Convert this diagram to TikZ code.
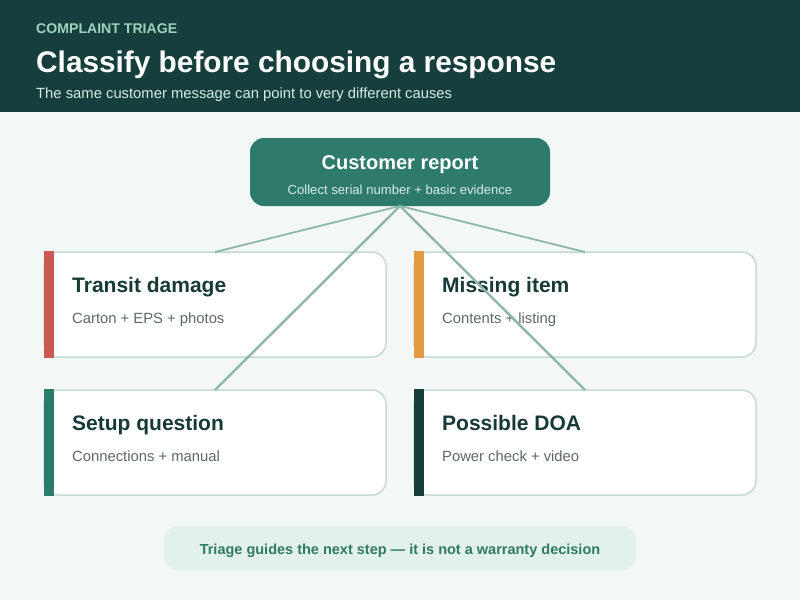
\documentclass[tikz,border=0pt]{standalone}
\usepackage{fontspec}
\setmainfont{Liberation Sans}
\definecolor{bgc}{HTML}{F3F8F6}
\definecolor{headc}{HTML}{163E3C}
\definecolor{kickc}{HTML}{9ED3C0}
\definecolor{headsub}{HTML}{D6EBE4}
\definecolor{repfill}{HTML}{2E7A6B}
\definecolor{repsub}{HTML}{D8EEE6}
\definecolor{cardline}{HTML}{C3DBD2}
\definecolor{cardtitlec}{HTML}{173A36}
\definecolor{cardsubc}{HTML}{5D6966}
\definecolor{connc}{HTML}{8FB6A8}
\definecolor{notefill}{HTML}{E3F1EC}
\definecolor{notetext}{HTML}{2F7A63}
\definecolor{acc1}{HTML}{C85A54}
\definecolor{acc2}{HTML}{E39A40}
\definecolor{acc3}{HTML}{2E7B69}
\definecolor{acc4}{HTML}{153D3B}
\tikzset{
  card/.style={draw=cardline, line width=1.5pt, fill=white, rounded corners=14pt,
    minimum width=342pt, minimum height=105pt, inner sep=0pt, outer sep=0pt},
  cardtitle/.style={anchor=base west, inner sep=0pt, text=cardtitlec,
    font=\bfseries\fontsize{21}{24}\selectfont},
  cardsub/.style={anchor=base west, inner sep=0pt, text=cardsubc,
    font=\fontsize{14.8}{17}\selectfont},
  conn/.style={draw=connc, line width=2.4pt},
  connthin/.style={draw=connc, line width=1.8pt},
}
\newcommand{\accentbar}[2]{\fill[#2] ([yshift=0.75pt]#1.north west) rectangle ([xshift=10pt,yshift=-0.75pt]#1.south west);}
\begin{document}
\begin{tikzpicture}[x=1pt,y=-1pt]
\useasboundingbox (0,0) rectangle (800,600);
\fill[bgc] (0,0) rectangle (800,600);
\fill[headc] (0,0) rectangle (800,112);
\node[anchor=base west, inner sep=0pt, text=kickc, font=\bfseries\fontsize{14.1}{16}\selectfont] (kicker) at (36,33) {COMPLAINT TRIAGE};
\node[anchor=base west, inner sep=0pt, text=white, font=\bfseries\fontsize{29.8}{34}\selectfont] (title) at (36,72) {Classify before choosing a response};
\node[anchor=base west, inner sep=0pt, text=headsub, font=\fontsize{14.8}{17}\selectfont] (subtitle) at (36,98) {The same customer message can point to very different causes};

% cards
\node[card] (transit) at (215,304.5) {};
\node[card] (missing) at (585,304.5) {};
\node[card] (setup) at (215,442.5) {};
\node[card] (doa) at (585,442.5) {};
\accentbar{transit}{acc1}
\accentbar{missing}{acc2}
\accentbar{setup}{acc3}
\accentbar{doa}{acc4}

\node[cardtitle] (t1) at ([xshift=28pt,yshift=-40pt]transit.north west) {Transit damage};
\node[cardsub] (s1) at ([xshift=28pt,yshift=-71pt]transit.north west) {Carton + EPS + photos};
\node[cardtitle] (t2) at ([xshift=28pt,yshift=-40pt]missing.north west) {Missing item};
\node[cardsub] (s2) at ([xshift=28pt,yshift=-71pt]missing.north west) {Contents + listing};
\node[cardtitle] (t3) at ([xshift=28pt,yshift=-40pt]setup.north west) {Setup question};
\node[cardsub] (s3) at ([xshift=28pt,yshift=-71pt]setup.north west) {Connections + manual};
\node[cardtitle] (t4) at ([xshift=28pt,yshift=-40pt]doa.north west) {Possible DOA};
\node[cardsub] (s4) at ([xshift=28pt,yshift=-71pt]doa.north west) {Power check + video};

% report
\node[fill=repfill, rounded corners=14pt, minimum width=300pt, minimum height=68pt, inner sep=0pt, outer sep=0pt] (report) at (400,172) {};
\node[anchor=base, inner sep=0pt, text=white, font=\bfseries\fontsize{20}{23}\selectfont] (rtitle) at (400,169) {Customer report};
\node[anchor=base, inner sep=0pt, text=repsub, font=\fontsize{13.1}{15}\selectfont] (rsub) at (400,194) {Collect serial number + basic evidence};

% connectors
\draw[connthin] (report.south) -- (transit.north);
\draw[connthin] (report.south) -- (missing.north);
\draw[conn] (report.south) -- (setup.north);
\draw[conn] (report.south) -- (doa.north);

% note
\node[fill=notefill, rounded corners=14pt, minimum width=472pt, minimum height=45pt, inner sep=0pt] (note) at (400,548) {};
\node[anchor=base, inner sep=0pt, text=notetext, font=\bfseries\fontsize{14.5}{16}\selectfont] (notet) at (400,554) {Triage guides the next step — it is not a warranty decision};
\end{tikzpicture}
\end{document}
